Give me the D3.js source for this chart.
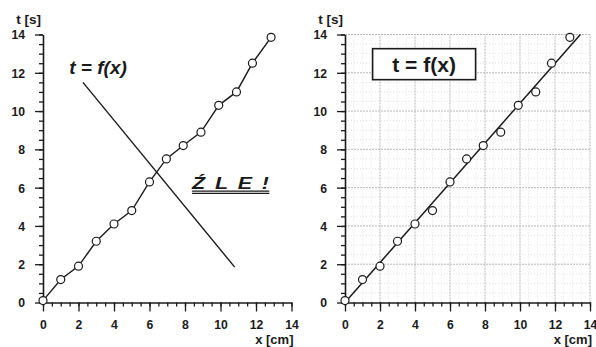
<!DOCTYPE html>
<html><head><meta charset="utf-8">
<script src="https://cdn.jsdelivr.net/npm/d3@7"></script>
<style>
html,body{margin:0;padding:0;background:#fff;}
svg{display:block;font-family:"Liberation Sans",Arial,sans-serif;}
</style></head>
<body>
<svg id="c" width="596" height="347"></svg>
<script>
// ---- data ----
const xValues = [0,1,2,3,4,5,6,6.95,7.9,8.9,9.9,10.9,11.8,12.85];
const tValues = [0.1,1.2,1.9,3.2,4.1,4.8,6.3,7.5,8.2,8.9,10.3,11.0,12.5,13.85];
const majorTicks = [0,2,4,6,8,10,12,14];
const minorTicks = d3.range(0,14.01,0.5);
const fitLine = [[0,0],[13.45,14]];          // right chart: fitted straight line
const pointerLine = [[2.25,11.5],[10.8,1.85]]; // left chart: crossing-out stroke
const xLabel = "x [cm]", yLabel = "t [s]", fLabel = "t = f(x)", wrongLabel = "ŹLE!";

const svg = d3.select("#c");
const ink = "#1a1a1a";

function panel(x0, x1, opts){
  const x = d3.scaleLinear([0,14],[x0,x1]);
  const y = d3.scaleLinear([0,14],[302.5,34.5]);
  const g = svg.append("g");

  if (opts.grid){
    const gg = g.append("g");
    const minorOnly = minorTicks.filter(d=>d%2!==0);
    gg.selectAll("line.mv").data(minorOnly).join("line")
      .attr("x1",d=>x(d)).attr("x2",d=>x(d)).attr("y1",y(0)).attr("y2",y(14))
      .attr("stroke","#dcdcdc").attr("stroke-width",0.8).attr("stroke-dasharray","1,2");
    gg.selectAll("line.mh").data(minorOnly).join("line")
      .attr("y1",d=>y(d)).attr("y2",d=>y(d)).attr("x1",x(0)).attr("x2",x(14))
      .attr("stroke","#dcdcdc").attr("stroke-width",0.8).attr("stroke-dasharray","1,2");
    gg.selectAll("line.v").data(majorTicks.slice(1)).join("line")
      .attr("x1",d=>x(d)).attr("x2",d=>x(d)).attr("y1",y(0)).attr("y2",y(14))
      .attr("stroke","#b8b8b8").attr("stroke-width",1).attr("stroke-dasharray","2,1");
    gg.selectAll("line.h").data(majorTicks.slice(1)).join("line")
      .attr("y1",d=>y(d)).attr("y2",d=>y(d)).attr("x1",x(0)).attr("x2",x(14))
      .attr("stroke","#b8b8b8").attr("stroke-width",1).attr("stroke-dasharray","2,1");
  }

  // minor ticks
  const mx = g.append("g").attr("transform",`translate(0,${y(0)})`)
    .call(d3.axisBottom(x).tickValues(minorTicks).tickSize(4).tickFormat(""));
  mx.select(".domain").remove();
  const my = g.append("g").attr("transform",`translate(${x(0)},0)`)
    .call(d3.axisLeft(y).tickValues(minorTicks).tickSize(4).tickFormat(""));
  my.select(".domain").remove();

  // major axes
  const ax = g.append("g").attr("transform",`translate(0,${y(0)})`)
    .call(d3.axisBottom(x).tickValues(majorTicks).tickSize(9).tickSizeOuter(0).tickPadding(9));
  const ay = g.append("g").attr("transform",`translate(${x(0)},0)`)
    .call(d3.axisLeft(y).tickValues(majorTicks).tickSize(8).tickSizeOuter(0).tickPadding(10));
  [mx,my,ax,ay].forEach(a=>{
    a.selectAll("line").attr("stroke",ink).attr("stroke-width",1.3);
    a.selectAll(".domain").attr("stroke",ink).attr("stroke-width",1.6);
    a.selectAll("text").attr("fill",ink).attr("font-size",12.2).attr("font-weight","bold")
      .attr("font-family","'Liberation Sans',Arial,sans-serif");
  });
  ay.selectAll("text").attr("dy","0.36em");

  g.append("text").attr("x",x(0)-2).attr("y",24).attr("text-anchor","end")
    .attr("font-size",13.5).attr("font-weight","bold").attr("fill",ink).text(yLabel);
  g.append("text").attr("x",x(14)+2).attr("y",344).attr("text-anchor","end")
    .attr("font-size",13).attr("font-weight","bold").attr("fill",ink).text(xLabel);

  const pts = xValues.map((v,i)=>[v,tValues[i]]);
  if (opts.connect){
    g.append("path").datum(pts)
      .attr("d",d3.line().x(d=>x(d[0])).y(d=>y(d[1])))
      .attr("fill","none").attr("stroke",ink).attr("stroke-width",1.4);
  }
  if (opts.fit){
    g.append("path").datum(fitLine)
      .attr("d",d3.line().x(d=>x(d[0])).y(d=>y(d[1])))
      .attr("fill","none").attr("stroke",ink).attr("stroke-width",1.5);
  }
  g.selectAll("circle").data(pts).join("circle")
    .attr("cx",d=>x(d[0])).attr("cy",d=>y(d[1])).attr("r",4)
    .attr("fill","#fff").attr("stroke",ink).attr("stroke-width",1.2);
  return {g,x,y};
}

// left panel
const L = panel(43, 291.5, {connect:true});
L.g.append("path").datum(pointerLine)
  .attr("d",d3.line().x(d=>L.x(d[0])).y(d=>L.y(d[1])))
  .attr("stroke",ink).attr("stroke-width",1.4).attr("fill","none");
L.g.append("text").attr("x",L.x(3.1)).attr("y",L.y(11.95)).attr("text-anchor","middle")
  .attr("font-size",19).attr("font-weight","bold").attr("font-style","italic")
  .attr("fill",ink).text(fLabel);
const wx0 = L.x(8.4), wy = L.y(5.95), wx1 = L.x(12.75);
L.g.append("text")
  .attr("transform",`translate(${wx0},${wy}) scale(1.3,1)`)
  .attr("font-size",16.5).attr("font-weight","bold").attr("font-style","italic")
  .attr("letter-spacing","7.5px").attr("fill",ink).text(wrongLabel);
[2.5,4.8].forEach(dy=>{
  L.g.append("line").attr("x1",wx0).attr("x2",wx1)
    .attr("y1",wy+dy).attr("y2",wy+dy)
    .attr("stroke",ink).attr("stroke-width",1.4);
});

// right panel
const R = panel(345, 590, {grid:true, fit:true});
const bx = R.x(4.52), by = R.y(12.45);
R.g.append("rect").attr("x",bx-51.5).attr("y",by-15.5).attr("width",103).attr("height",31)
  .attr("fill","#fff").attr("stroke",ink).attr("stroke-width",1.6);
R.g.append("text").attr("x",bx).attr("y",by+7.5).attr("text-anchor","middle")
  .attr("font-size",21).attr("font-weight","bold").attr("fill",ink).text(fLabel);
</script>
</body></html>
